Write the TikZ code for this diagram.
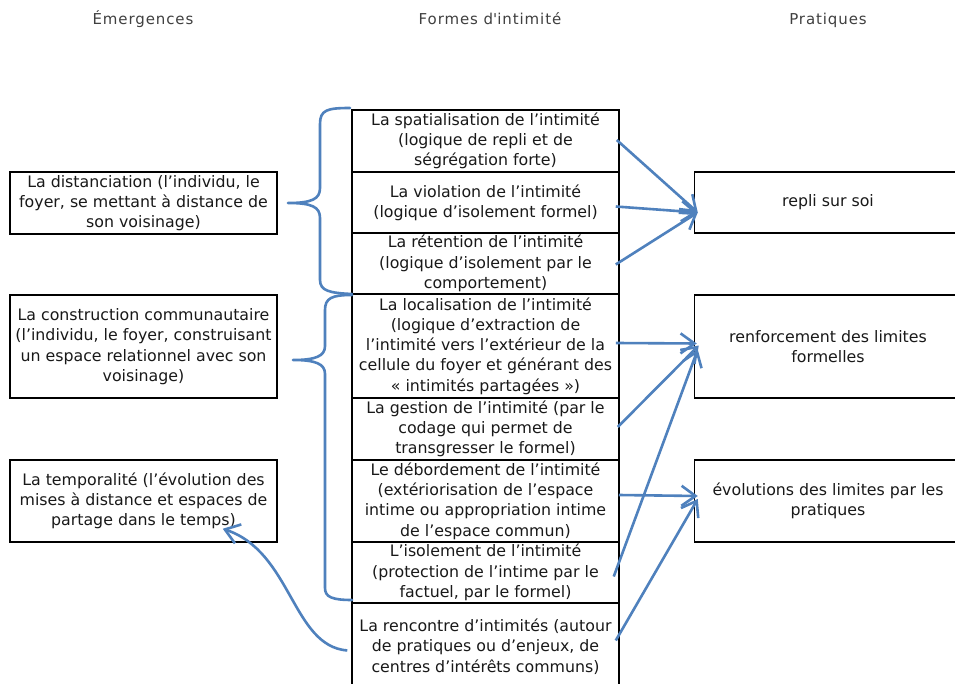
\documentclass[tikz,border=0pt]{standalone}
\usepackage{fontspec}
\setmainfont{DejaVu Sans}
\newfontfamily\hdrfont[LetterSpace=6]{DejaVu Sans}
\usetikzlibrary{arrows.meta,calc}
\definecolor{arrowblue}{RGB}{79,129,189}
\begin{document}
\begin{tikzpicture}[x=1pt,y=-1pt,
  box/.style={draw=black, line width=1.5pt, minimum width=267pt, inner sep=0pt, align=center,
    font=\fontsize{15.8}{20.3}\selectfont, text=black!90},
  hdr/.style={font=\hdrfont\fontsize{15}{18}\selectfont, text=black!75, anchor=base},
  link/.style={draw=arrowblue, line width=2.6pt, -{Straight Barb[length=14pt,width=20pt]}},
  bracestyle/.style={draw=arrowblue, line width=2.6pt, line cap=round, line join=round}]
\fill[white] (0,0) rectangle (955,684);
\useasboundingbox (0,0) rectangle (955,684);

% headers
\node[hdr] (h1) at (143,25) {Émergences};
\node[hdr] (h2) at (490,25) {Formes d\textquotesingle intimité};
\node[hdr] (h3) at (828,25) {Pratiques};

% middle column
\node[box, minimum height=62pt] (m1) at (485.5,141) {La spatialisation de l’intimité\\(logique de repli et de\\ségrégation forte)};
\node[box, minimum height=61pt] (m2) at (485.5,202.5) {La violation de l’intimité\\(logique d’isolement formel)};
\node[box, minimum height=61pt] (m3) at (485.5,263.5) {La rétention de l’intimité\\(logique d’isolement par le\\comportement)};
\node[box, minimum height=104pt] (m4) at (485.5,346) {La localisation de l’intimité\\(logique d’extraction de\\l’intimité vers l’extérieur de la\\cellule du foyer et générant des\\« intimités partagées »)};
\node[box, minimum height=62pt] (m5) at (485.5,429) {La gestion de l’intimité (par le\\codage qui permet de\\transgresser le formel)};
\node[box, minimum height=82pt] (m6) at (485.5,501) {Le débordement de l’intimité\\(extériorisation de l’espace\\intime ou appropriation intime\\de l’espace commun)};
\node[box, minimum height=61pt] (m7) at (485.5,572.5) {L’isolement de l’intimité\\(protection de l’intime par le\\factuel, par le formel)};
\node[box, minimum height=87pt] (m8) at (485.5,646.5) {La rencontre d’intimités (autour\\de pratiques ou d’enjeux, de\\centres d’intérêts communs)};

% left column
\node[box, minimum height=62pt] (l1) at (143.5,203) {La distanciation (l’individu, le\\foyer, se mettant à distance de\\son voisinage)};
\node[box, minimum height=103pt] (l2) at (143.5,346.5) {La construction communautaire\\(l’individu, le foyer, construisant\\un espace relationnel avec son\\voisinage)};
\node[box, minimum height=82pt] (l3) at (143.5,501) {La temporalité (l’évolution des\\mises à distance et espaces de\\partage dans le temps)};

% right column
\node[box, minimum height=61pt] (r1) at (828,202.5) {repli sur soi};
\node[box, minimum height=103pt] (r2) at (828,346.5) {renforcement des limites\\formelles};
\node[box, minimum height=82pt] (r3) at (828,501) {évolutions des limites par les\\pratiques};

% braces
\draw[bracestyle] (350,108) .. controls (327,108) and (320,110) .. (320,124) -- (320,188)
  .. controls (320,199) and (312,203) .. (288,203)
  .. controls (312,203) and (320,207) .. (320,218) -- (320,280)
  .. controls (320,291) and (330,293) .. (352,294);
\draw[bracestyle] (352,295) .. controls (332,295) and (325,298) .. (325,310) -- (325,346)
  .. controls (325,356) and (316,360) .. (293,360)
  .. controls (316,360) and (325,364) .. (325,374) -- (325,588)
  .. controls (325,597) and (332,600) .. (352,600);

% arrows
\draw[link] ($(m1.east)+(-3,-1)$) -- ($(r1.west)+(4,10)$);
\draw[link] ($(m2.east)+(-4,4)$) -- ($(r1.west)+(4,10)$);
\draw[link] ($(m3.east)+(-4,1)$) -- ($(r1.west)+(4,10)$);
\draw[link] ($(m4.east)+(-4,-3)$) -- ($(r2.west)+(3,-3)$);
\draw[link] ($(m5.east)+(-2,-2)$) -- ($(r2.west)+(5,-1)$);
\draw[link] ($(m7.east)+(-6,4)$) -- ($(r2.west)+(4,3)$);
\draw[link] ($(m6.east)+(-1,-6)$) -- ($(r3.west)+(4,-5)$);
\draw[link] ($(m8.east)+(-4,-6)$) -- ($(r3.west)+(4,-2)$);
\draw[link] ($(m8.west)+(-4,4)$) .. controls (292,646) and (292,552) .. ($(l3.south east)+(-55,-14)$);
\end{tikzpicture}
\end{document}
